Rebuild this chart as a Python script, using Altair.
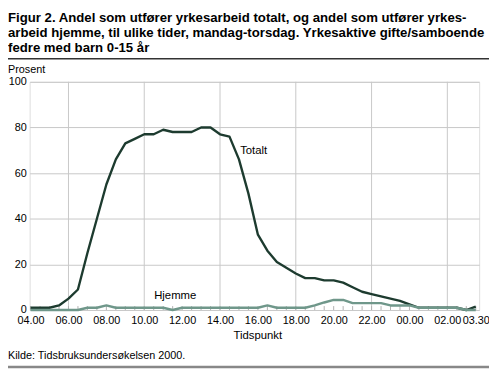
import json
import altair as alt
import pandas as pd

# ---- data ----
times = ["04.00", "04.30", "05.00", "05.30", "06.00", "06.30", "07.00", "07.30",
         "08.00", "08.30", "09.00", "09.30", "10.00", "10.30", "11.00", "11.30",
         "12.00", "12.30", "13.00", "13.30", "14.00", "14.30", "15.00", "15.30",
         "16.00", "16.30", "17.00", "17.30", "18.00", "18.30", "19.00", "19.30",
         "20.00", "20.30", "21.00", "21.30", "22.00", "22.30", "23.00", "23.30",
         "00.00", "00.30", "01.00", "01.30", "02.00", "02.30", "03.00", "03.30"]
totalt = [1, 1, 1, 2, 5, 9, 25, 40, 55, 66, 73, 75, 77, 77, 79, 78,
          78, 78, 80, 80, 77, 76, 66, 51, 33, 26, 21, 18.5, 16, 14, 14, 13,
          13, 12, 10, 8, 7, 6, 5, 4, 2.5, 1, 1, 1, 1, 1, 0, 1.5]
hjemme = [0, 0, 0, 0, 0, 0, 1, 1, 2, 1, 1, 1, 1, 1, 1, 0,
          1, 1, 1, 1, 1, 1, 1, 1, 1, 2, 1, 1, 1, 1, 2, 3.3,
          4.4, 4.4, 3, 3, 3, 3, 2, 2, 2, 1, 1, 1, 1, 1, 0, 0]
series_names = ["Totalt", "Hjemme"]
tick_idx = [0, 4, 8, 12, 16, 20, 24, 28, 32, 36, 40, 44, 47]
grid_idx = [4, 12, 20, 28, 36, 44]
y_ticks = [0, 20, 40, 60, 80, 100]

title_lines = ["Figur 2. Andel som utfører yrkesarbeid totalt, og andel som utfører yrkes-",
               "arbeid hjemme, til ulike tider, mandag-torsdag. Yrkesaktive gifte/samboende",
               "fedre med barn 0-15 år"]
y_title = "Prosent"
x_title = "Tidspunkt"
source = "Kilde: Tidsbruksundersøkelsen 2000."

rows = []
for i, t in enumerate(times):
    rows.append({"i": i, "tid": t, "serie": "Totalt", "v": totalt[i]})
    rows.append({"i": i, "tid": t, "serie": "Hjemme", "v": hjemme[i]})
df = pd.DataFrame(rows)
ticks_df = pd.DataFrame({"i": list(range(len(times)))})
grid_df = pd.DataFrame({"i": grid_idx})

W, H = 457, 232
L = 22  # left padding
FONT = "Liberation Sans"
TXT = "#000000"
GRID = "#c8c8c8"

xscale = alt.Scale(domain=[-0.1, 47.36], nice=False, zero=False)
yscale = alt.Scale(domain=[0, 100], nice=False)

label_expr = json.dumps(times) + "[datum.value]"

x_axis = alt.Axis(values=tick_idx, labelExpr=label_expr, grid=False, domain=False,
                  ticks=False, labelOverlap=False, labelFlush=False, labelPadding=5,
                  labelFont=FONT, labelFontSize=11, labelColor=TXT, title=None)
y_axis = alt.Axis(values=y_ticks, grid=True, gridColor=GRID, gridWidth=1, domain=False,
                  ticks=False, labelPadding=3.5, labelFont=FONT, labelFontSize=11,
                  labelColor=TXT, title=None)

vgrid = alt.Chart(grid_df).mark_rule(color=GRID, strokeWidth=1).encode(
    x=alt.X("i:Q", scale=xscale, axis=x_axis)
)
minor = alt.Chart(ticks_df).mark_rule(color="#b0b0b0", strokeWidth=1).encode(
    x=alt.X("i:Q", scale=xscale, axis=x_axis),
    y=alt.value(H),
    y2=alt.value(H - 4),
)
lines = alt.Chart(df).mark_line(strokeWidth=2.4, strokeJoin="round").encode(
    x=alt.X("i:Q", scale=xscale, axis=x_axis),
    y=alt.Y("v:Q", scale=yscale, axis=y_axis),
    color=alt.Color("serie:N", scale=alt.Scale(domain=series_names,
                                               range=["#1d3b2f", "#6f978a"]), legend=None),
    order=alt.Order("i:Q"),
)

one = alt.Data(values=[{}])
lab_tot = alt.Chart(one).mark_text(align="left", baseline="middle", font=FONT,
                                   fontSize=11.5, color=TXT).encode(
    x=alt.value(214), y=alt.value(70), text=alt.value(series_names[0]))
lab_hj = alt.Chart(one).mark_text(align="center", baseline="middle", font=FONT,
                                  fontSize=11.5, color=TXT).encode(
    x=alt.value(148), y=alt.value(218), text=alt.value(series_names[1]))

title = alt.Chart(one).mark_text(align="left", baseline="alphabetic", font=FONT,
                                 fontWeight="bold", fontSize=13.4, lineHeight=15.5,
                                 color=TXT).encode(
    x=alt.value(-L), y=alt.value(-61), text=alt.value(title_lines))
rule_top = alt.Chart(one).mark_rule(color="#333333", strokeWidth=1.5).encode(
    x=alt.value(-L), x2=alt.value(467), y=alt.value(-23.5))
ytitle = alt.Chart(one).mark_text(align="left", baseline="middle", font=FONT,
                                  fontSize=11, color=TXT).encode(
    x=alt.value(-L), y=alt.value(-12), text=alt.value(y_title))
xtitle = alt.Chart(one).mark_text(align="center", baseline="middle", font=FONT,
                                  fontSize=11.5, color=TXT).encode(
    x=alt.value(232), y=alt.value(258), text=alt.value(x_title))
src = alt.Chart(one).mark_text(align="left", baseline="middle", font=FONT,
                               fontSize=11, color=TXT).encode(
    x=alt.value(-L), y=alt.value(279), text=alt.value(source))
rule_bot = alt.Chart(one).mark_rule(color="#888888", strokeWidth=2.5).encode(
    x=alt.value(-L), x2=alt.value(467), y=alt.value(290))

chart = alt.layer(vgrid, minor, lines, lab_tot, lab_hj, title, rule_top, ytitle,
                  xtitle, src, rule_bot).properties(
    width=W, height=H,
    autosize=alt.AutoSizeParams(type="none"),
    padding={"left": L, "top": 72, "right": 10, "bottom": 62},
).configure_view(stroke=GRID, strokeWidth=1).configure(background="white")

chart.save("out.html", embed_options={"renderer": "svg", "actions": False})
